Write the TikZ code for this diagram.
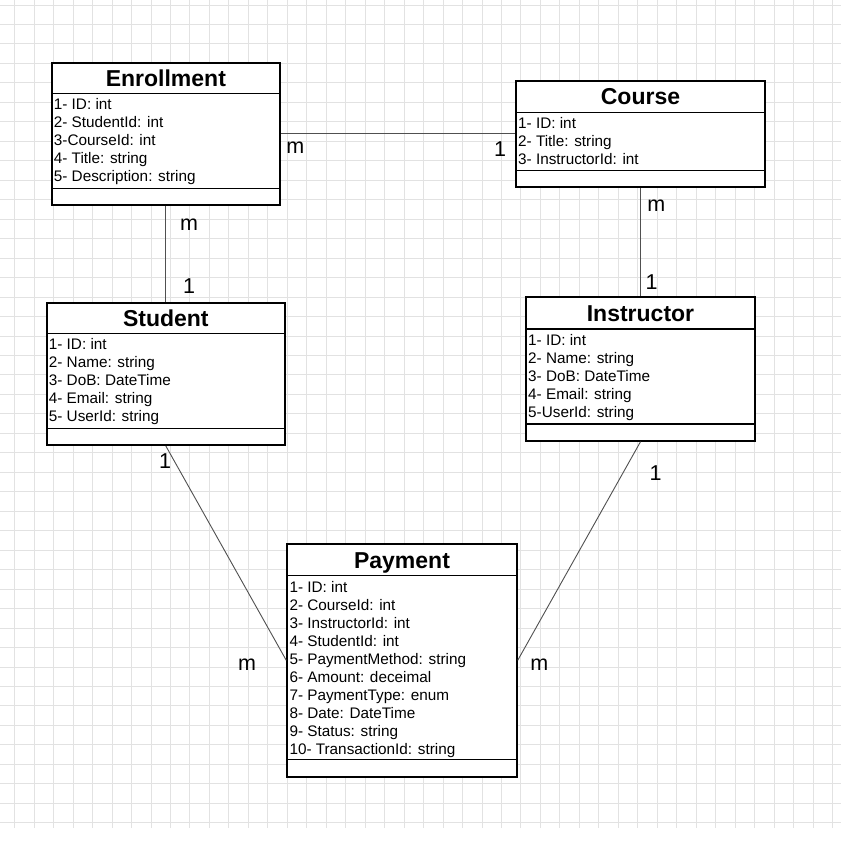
\documentclass[tikz,border=0pt]{standalone}
\usepackage{fontspec}
\setmainfont{Liberation Sans}
\usetikzlibrary{fit}
\definecolor{gridgray}{HTML}{E2E2E2}
\definecolor{conngray}{HTML}{505050}
\tikzset{
  gridline/.style={draw=gridgray, line width=0.9pt},
  classbox/.style={draw=black, fill=white, line width=2pt, inner sep=0pt},
  sepline/.style={draw=black, line width=1.3pt},
  titletext/.style={inner sep=0pt, font=\bfseries\fontsize{23}{27}\selectfont},
  attrtext/.style={inner sep=0pt, font=\fontsize{15.3}{18}\selectfont},
  conn/.style={draw=conngray, line width=0.9pt},
  multlabel/.style={inner sep=0pt, anchor=base, font=\fontsize{21.5}{24}\selectfont}
}
% #1 name, #2 x1, #3 y1, #4 x2, #5 y2, #6 sep1, #7 sep2, #8 title, #9 attributes
\newcommand{\umlclass}[9]{%
  \coordinate (#1-nw) at (#2,#3);
  \coordinate (#1-se) at (#4,#5);
  \node[classbox, fit=(#1-nw)(#1-se)] (#1) {};
  \draw[sepline] (#2,#6) -- (#4,#6);
  \draw[sepline] (#2,#7) -- (#4,#7);
  \node[titletext, anchor=base] (#1-title) at ({(#2+#4)/2}, {(#3+#6)/2+8.2}) {#8};
  \foreach \a [count=\i] in {#9} {
    \node[attrtext, anchor=base west] (#1-attr\i) at ({#2+2}, {#6+16.3+18*(\i-1)}) {\a};
  }
}
\begin{document}
\begin{tikzpicture}[x=1pt, y=-1pt]
\useasboundingbox (0,0) rectangle (841,854);
\fill[white] (0,0) rectangle (841,854);
% grid
\foreach \i in {0,...,42} {
  \draw[gridline] ({14.7+19.47*\i},0) -- ({14.7+19.47*\i},828.3);
  \draw[gridline] (0,{5+19.47*\i}) -- (841,{5+19.47*\i});
}
% classes
\umlclass{enr}{51.7}{62.7}{280}{205}{93.3}{188.3}{Enrollment}{1- ID: int, 2- StudentId: int, 3-CourseId: int, 4- Title: string, 5- Description: string}
\umlclass{crs}{516}{80.7}{765}{187.3}{112.3}{170.7}{Course}{1- ID: int, 2- Title: string, 3- InstructorId: int}
\umlclass{stu}{46.7}{302.7}{285}{445}{333.3}{428.3}{Student}{1- ID: int, 2- Name: string, 3- DoB: DateTime, 4- Email: string, 5- UserId: string}
\umlclass{ins}{526}{297.3}{755}{440.7}{329}{424}{Instructor}{1- ID: int, 2- Name: string, 3- DoB: DateTime, 4- Email: string, 5-UserId: string}
\umlclass{pay}{287.3}{544}{516.7}{776.7}{575.7}{759.3}{Payment}{1- ID: int, 2- CourseId: int, 3- InstructorId: int, 4- StudentId: int, 5- PaymentMethod: string, 6- Amount: deceimal, 7- PaymentType: enum, 8- Date: DateTime, 9- Status: string, 10- TransactionId: string}
% connectors
\draw[conn] (enr.east) -- (enr.east -| crs.west);
\draw[conn] (enr.south) -- (stu.north);
\draw[conn] (crs.south) -- (ins.north);
\draw[conn] (stu.south) -- (pay.west);
\draw[conn] (ins.south) -- (pay.east);
% multiplicities
\node[multlabel] (l1) at (295.3,153.3) {m};
\node[multlabel] (l2) at (500,156.7) {1};
\node[multlabel] (l3) at (189,230.7) {m};
\node[multlabel] (l4) at (189,293.3) {1};
\node[multlabel] (l5) at (656.3,211.7) {m};
\node[multlabel] (l6) at (651.7,289.3) {1};
\node[multlabel] (l7) at (165,468.3) {1};
\node[multlabel] (l8) at (247,670) {m};
\node[multlabel] (l9) at (655.7,480) {1};
\node[multlabel] (l10) at (539.3,670) {m};
\end{tikzpicture}
\end{document}
